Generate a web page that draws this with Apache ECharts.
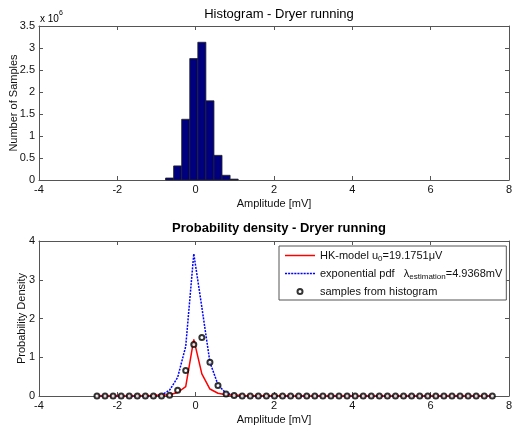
<!DOCTYPE html>
<html><head><meta charset="utf-8">
<script src="https://cdn.jsdelivr.net/npm/echarts@6/dist/echarts.min.js"></script>
<style>html,body{margin:0;padding:0;background:#fff}#c{width:514px;height:428px}</style>
</head><body><div id="c"></div>
<script>
// bin centres [mV]
const binCenters = [-2.520,-2.314,-2.108,-1.902,-1.696,-1.490,-1.284,-1.078,-0.872,-0.666,
  -0.460,-0.254,-0.048,0.158,0.364,0.570,0.776,0.982,1.188,1.394,
  1.600,1.806,2.012,2.218,2.424,2.630,2.836,3.042,3.248,3.454,
  3.660,3.866,4.072,4.278,4.484,4.690,4.896,5.102,5.308,5.514,
  5.720,5.926,6.132,6.338,6.544,6.750,6.956,7.162,7.368,7.574];
// histogram counts (x 10^6)
const histCounts = [0,0,0,0,0,0,0,0,0,0.045,
  0.32,1.38,2.76,3.13,1.80,0.56,0.107,0.02,0,0,
  0,0,0,0,0,0,0,0,0,0, 0,0,0,0,0,0,0,0,0,0, 0,0,0,0,0,0,0,0,0,0];
// HK-model pdf
const hkModel = [0.001,0.001,0.002,0.002,0.003,0.004,0.006,0.01,0.02,0.03,
  0.09,0.24,1.46,0.57,0.18,0.07,0.03,0.02,0.01,0.008,
  0.006,0.005,0.004,0.004,0.003,0.003,0.002,0.002,0.002,0.002,
  0.001,0.001,0.001,0.001,0.001,0.001,0.001,0.001,0.001,0.001,
  0.001,0.001,0.001,0.001,0.001,0.001,0.001,0.001,0.001,0.001];
// exponential pdf
const expPdf = [0,0,0,0,0,0.001,0.003,0.01,0.03,0.15,
  0.48,1.28,3.67,2.29,0.87,0.29,0.07,0.02,0.005,0.002,
  0,0,0,0,0,0,0,0,0,0, 0,0,0,0,0,0,0,0,0,0, 0,0,0,0,0,0,0,0,0,0];
// samples from histogram (density)
const histSamples = [0,0,0,0,0,0,0,0,0.003,0.02,
  0.15,0.66,1.33,1.51,0.87,0.27,0.05,0.01,0.001,0,
  0,0,0,0,0,0,0,0,0,0, 0,0,0,0,0,0,0,0,0,0, 0,0,0,0,0,0,0,0,0,0];

const seriesNames = ['HK', 'exp', 'samples'];
const legendLabels = {
  HK: '{t|HK-model u}{s|0}{t|=19.1751\u03bcV}',
  exp: '{t|exponential pdf   \u03bb}{s|estimation}{t|=4.9368mV}',
  samples: '{t|samples from histogram}'
};

const FONT = 'Liberation Sans, Arial, sans-serif';
const axisCol = '#555';
const binW = binCenters[1] - binCenters[0];

// legend icons: solid and dotted short lines
const solidIcon = 'path://M0,0h30v1.5h-30z';
let dotted = 'path://';
for (let k = 0; k < 10; k++) dotted += 'M' + (k * 3) + ',0h2v1.5h-2z';

const chart = echarts.init(document.getElementById('c'), null, {renderer: 'canvas'});

function xAx(gi, show) {
  return {
    type: 'value', gridIndex: gi, min: -4, max: 8, interval: 2,
    position: show ? 'bottom' : 'top',
    name: show ? 'Amplitude [mV]' : '', nameLocation: 'middle', nameGap: 18,
    nameMoveOverlap: false,
    nameTextStyle: {fontFamily: FONT, fontSize: 11, color: '#111'},
    axisLine: {show: true, onZero: false, lineStyle: {color: axisCol, width: 1}},
    axisTick: {show: true, inside: true, length: 4, lineStyle: {color: axisCol}},
    axisLabel: {show: show, fontFamily: FONT, fontSize: 11, color: '#111', margin: 4},
    splitLine: {show: false}
  };
}
function yAx(gi, show, max, interval, name, gap) {
  return {
    type: 'value', gridIndex: gi, min: 0, max: max, interval: interval,
    position: show ? 'left' : 'right',
    name: show ? name : '', nameLocation: 'middle', nameGap: gap,
    nameMoveOverlap: false,
    nameTextStyle: {fontFamily: FONT, fontSize: 11, color: '#111'},
    axisLine: {show: true, onZero: false, lineStyle: {color: axisCol, width: 1}},
    axisTick: {show: true, inside: true, length: 4, lineStyle: {color: axisCol}},
    axisLabel: {show: show, fontFamily: FONT, fontSize: 11, color: '#111', margin: 4},
    splitLine: {show: false}
  };
}

const histData = binCenters.map((c, i) => [c, histCounts[i], binW]);

const option = {
  animation: false,
  backgroundColor: '#fff',
  title: [
    {text: 'Histogram - Dryer running', left: 274, top: 3, textAlign: 'center',
      textStyle: {fontFamily: FONT, fontSize: 13, fontWeight: 'normal', color: '#000'}},
    {text: 'Probability density - Dryer running', left: 274, top: 217, textAlign: 'center',
      textStyle: {fontFamily: FONT, fontSize: 13, fontWeight: 'bold', color: '#000'}}
  ],
  grid: [
    {left: 39, top: 26, width: 470, height: 154, containLabel: false, outerBoundsMode: 'none'},
    {left: 39, top: 241, width: 470, height: 155, containLabel: false, outerBoundsMode: 'none'}
  ],
  xAxis: [xAx(0, true), xAx(0, false), xAx(1, true), xAx(1, false)],
  yAxis: [
    yAx(0, true, 3.5, 0.5, 'Number of Samples', 20),
    yAx(0, false, 3.5, 0.5, '', 0),
    yAx(1, true, 4, 1, 'Probability Density', 12),
    yAx(1, false, 4, 1, '', 0)
  ],
  legend: {
    orient: 'vertical', left: 279, top: 246,
    data: [
      {name: seriesNames[0], icon: solidIcon},
      {name: seriesNames[1], icon: dotted},
      {name: seriesNames[2], icon: 'emptyCircle'}
    ],
    formatter: n => legendLabels[n],
    itemWidth: 30, itemHeight: 5, itemGap: 5,
    padding: [4, 4, 3, 6],
    backgroundColor: '#fff', borderColor: axisCol, borderWidth: 1,
    textStyle: {
      fontFamily: FONT, fontSize: 11, color: '#111',
      rich: {
        t: {fontFamily: FONT, fontSize: 11, color: '#111', lineHeight: 15},
        s: {fontFamily: FONT, fontSize: 8, color: '#111', verticalAlign: 'bottom', lineHeight: 9}
      }
    }
  },
  graphic: [{
    type: 'text', left: 40, top: 10,
    style: {
      text: '{a|x 10}{b|6}',
      rich: {
        a: {fontFamily: FONT, fontSize: 10, color: '#111', lineHeight: 14, verticalAlign: 'bottom'},
        b: {fontFamily: FONT, fontSize: 7, color: '#111', verticalAlign: 'top', lineHeight: 8}
      }
    }
  }],
  series: [
    {
      type: 'custom', xAxisIndex: 0, yAxisIndex: 0, data: histData,
      renderItem: function (params, api) {
        const c = api.value(0), h = api.value(1), w = api.value(2);
        if (!(h > 0)) return null;
        const p0 = api.coord([c - w / 2, h]);
        const p1 = api.coord([c + w / 2, 0]);
        return {type: 'rect',
          shape: {x: p0[0], y: p0[1], width: p1[0] - p0[0], height: p1[1] - p0[1]},
          style: {fill: '#00007f', stroke: '#222', lineWidth: 0.8}};
      }
    },
    {
      name: seriesNames[1], type: 'line', xAxisIndex: 2, yAxisIndex: 2, z: 2,
      data: binCenters.map((c, i) => [c, expPdf[i]]),
      symbol: 'none', lineStyle: {color: '#0000ff', width: 1.5, type: [2, 1.2]},
      itemStyle: {color: '#0000ff'}
    },
    {
      name: seriesNames[0], type: 'line', xAxisIndex: 2, yAxisIndex: 2, z: 3,
      data: binCenters.map((c, i) => [c, hkModel[i]]),
      symbol: 'none', lineStyle: {color: '#ff0000', width: 1.5},
      itemStyle: {color: '#ff0000'}
    },
    {
      name: seriesNames[2], type: 'scatter', xAxisIndex: 2, yAxisIndex: 2, z: 4,
      data: binCenters.map((c, i) => [c, histSamples[i]]),
      symbol: 'emptyCircle', symbolSize: 5,
      itemStyle: {color: '#000', borderColor: '#000', borderWidth: 1.5}
    }
  ]
};
chart.setOption(option);
</script>
</body></html>
